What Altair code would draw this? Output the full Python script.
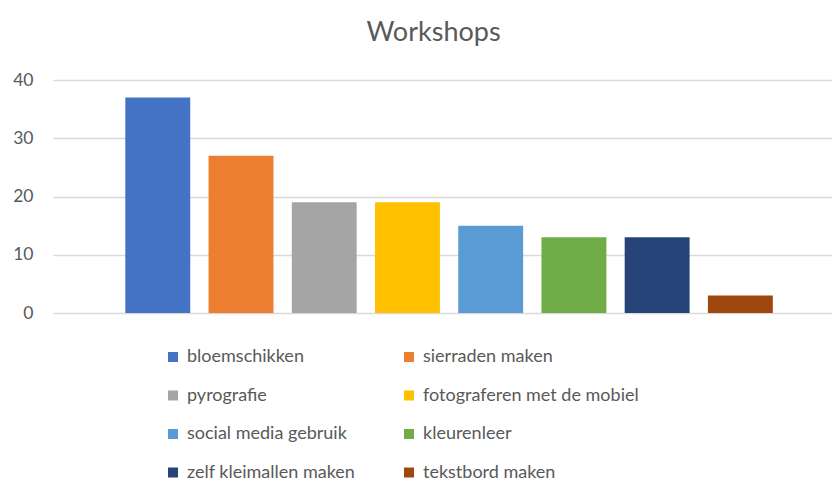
import altair as alt
import pandas as pd

categories = ["bloemschikken", "sierraden maken", "pyrografie", "fotograferen met de mobiel",
              "social media gebruik", "kleurenleer", "zelf kleimallen maken", "tekstbord maken"]
values = [37, 27, 19, 19, 15, 13, 13, 3]
colors = ["#4472C4", "#ED7D31", "#A5A5A5", "#FFC000", "#5B9BD5", "#70AD47", "#264478", "#9E480E"]
y_ticks = [0, 10, 20, 30, 40]

df = pd.DataFrame({"workshop": categories, "count": values})

FONT = "Lato"

chart = alt.Chart(df).mark_bar().encode(
    x=alt.X("workshop:N", sort=categories, axis=None,
            scale=alt.Scale(paddingInner=0.22, paddingOuter=0.79, align=0.55)),
    y=alt.Y("count:Q", scale=alt.Scale(domain=[0, 40]),
            axis=alt.Axis(values=y_ticks, title=None, domain=False, ticks=False,
                          labelFontSize=17.5, labelColor="#595959", labelFont=FONT,
                          labelPadding=20, gridColor="#d9d9d9", gridWidth=1.5)),
    color=alt.Color("workshop:N", sort=categories,
                    scale=alt.Scale(domain=categories, range=colors),
                    legend=alt.Legend(title=None, orient="none", legendX=111, legendY=268,
                                      direction="horizontal",
                                      columns=2, columnPadding=44, rowPadding=20.5,
                                      symbolType="square", symbolSize=100, symbolStrokeWidth=0,
                                      labelFontSize=18, labelColor="#595959", labelFont=FONT,
                                      labelOffset=5, padding=0, labelLimit=400)),
).properties(
    width=779, height=233,
    title=alt.TitleParams("Workshops", fontSize=27, font=FONT, color="#595959",
                          fontWeight="normal", frame="group", anchor="middle",
                          dx=-9, offset=24),
    autosize=alt.AutoSizeParams(type="none"),
    padding={"left": 45, "top": 72, "right": 0, "bottom": 170},
).configure_view(stroke=None)

chart.save("out.html", embed_options={"renderer": "svg", "actions": False})
